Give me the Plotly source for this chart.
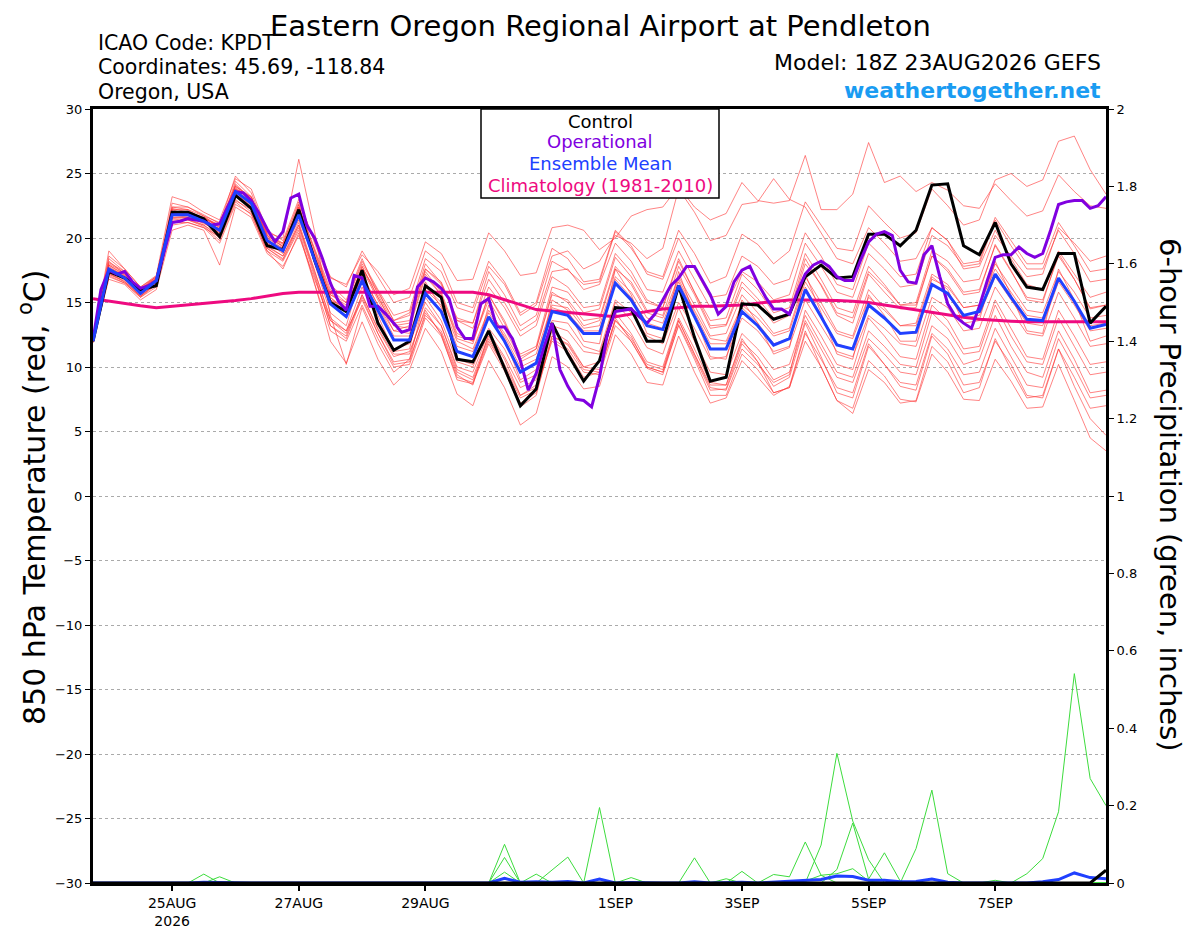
import plotly.graph_objects as go
import pandas as pd

# ---------------- data ----------------
start = "2026-08-23 18:00"
n6 = 65
n3 = 129

control = [12.0, 17.4, 16.9, 16.0, 16.3, 22.0, 22.0, 21.5, 20.1, 23.3, 22.3, 19.4, 19.1,
           22.2, 18.3, 15.0, 14.3, 17.5, 13.4, 11.3, 12.0,
           16.3, 15.4, 10.6, 10.4, 12.8, 9.9, 7.0, 8.3, 13.4, 11.0, 8.9, 10.5,
           14.6, 14.5, 12.0, 12.0, 16.3, 12.3, 8.9, 9.2, 14.9, 14.8, 13.7, 14.1,
           17.0, 17.9, 16.9, 17.0, 20.3, 20.3, 19.4, 20.6,
           24.1, 24.2, 19.4, 18.7, 21.2, 18.0, 16.2, 16.0, 18.8, 18.8, 13.4, 14.7]

ens_mean = [12.0, 17.6, 16.9, 15.7, 16.7, 21.8, 21.8, 21.3, 20.6, 23.6, 22.7, 19.8, 19.0,
            21.8, 18.3, 14.9, 13.9, 16.7, 14.4, 12.1, 12.1,
            15.7, 14.3, 11.2, 10.8, 13.9, 12.0, 9.6, 10.3, 14.3, 14.0, 12.6, 12.6,
            16.5, 15.2, 13.2, 12.9, 16.3, 13.9, 11.4, 11.4, 14.3, 13.2, 11.7, 12.2,
            16.0, 13.9, 11.7, 11.4, 14.8, 13.8, 12.6, 12.7,
            16.4, 15.7, 14.0, 14.3, 17.2, 15.4, 13.7, 13.6, 16.9, 15.1, 13.0, 13.3]

climatology = [15.3, 15.1, 14.95, 14.75, 14.6, 14.7, 14.8, 14.9, 15.0, 15.15, 15.3, 15.5, 15.7,
               15.8, 15.8, 15.8, 15.8, 15.8, 15.8, 15.8, 15.8,
               15.8, 15.8, 15.8, 15.8, 15.6, 15.2, 14.8, 14.45, 14.35, 14.25, 14.1, 14.0,
               13.9, 14.1, 14.3, 14.5, 14.6, 14.7, 14.7, 14.75, 14.8, 14.95, 15.1, 15.2,
               15.2, 15.2, 15.15, 15.1, 15.0, 14.8, 14.6, 14.4,
               14.2, 14.0, 13.85, 13.7, 13.6, 13.55, 13.5, 13.5, 13.5, 13.5, 13.5, 13.5]

operational = [12.1, 16.0, 17.5, 17.2, 17.4, 16.6, 16.1, 16.3, 16.7, 19.0, 21.2, 21.3, 21.5,
               21.4, 21.3, 21.0, 21.1, 22.4, 23.6, 23.5, 22.9, 21.9, 20.7, 19.7, 20.5,
               23.1, 23.4, 21.0, 20.0, 18.4, 16.5, 15.1, 14.4, 17.1, 16.9, 14.7, 14.7,
               14.1, 13.4, 12.7, 12.9, 16.2, 16.9, 16.6, 16.1, 15.3, 13.1, 12.2, 12.2,
               14.9, 15.3, 13.1, 13.1, 12.2, 10.5, 8.2, 9.5, 11.6, 13.4, 9.8, 8.5,
               7.5, 7.4, 6.9, 9.2, 12.6, 14.3, 14.4, 14.5, 13.9, 13.4, 14.1, 15.2,
               16.3, 16.9, 17.8, 17.8, 16.7, 15.6, 14.1, 14.7, 16.6, 17.5, 17.8, 16.5,
               15.4, 14.5, 14.5, 14.1, 15.8, 17.2, 17.9, 18.2, 17.8, 17.0, 16.7, 16.7,
               18.3, 19.7, 20.3, 20.5, 20.2, 17.5, 16.6, 16.5, 18.7, 19.4, 17.0, 14.9,
               13.9, 13.4, 13.0, 14.7, 16.7, 18.5, 18.7, 18.7, 19.3, 18.8, 18.5, 18.8,
               20.6, 22.6, 22.8, 22.9, 22.9, 22.3, 22.5, 23.2]

member01 = [12.0, 18.4, 17.4, 16.0, 16.9, 22.7, 22.4, 21.7, 20.8, 24.4, 23.2, 20.1, 19.6,
            22.8, 19.8, 16.9, 16.4, 18.7, 17.4, 15.6, 16.1,
            19.7, 18.8, 16.7, 16.8, 20.4, 19.0, 17.1, 17.3, 20.8, 21.0, 20.6, 19.1,
            20.0, 21.7, 22.2, 22.4, 24.0, 22.4, 21.4, 21.9, 24.3, 22.9, 22.7, 22.9,
            26.4, 22.2, 22.2, 23.4, 27.4, 24.3, 24.8, 23.6,
            24.3, 23.7, 22.5, 22.3, 24.2, 22.9, 21.7, 22.1, 24.9, 23.6, 22.5, 22.3]
member02 = [11.9, 19.0, 17.6, 16.2, 17.0, 22.3, 22.0, 21.6, 21.0, 24.8, 23.5, 20.4, 19.3,
            22.4, 19.2, 16.0, 15.0, 18.0, 15.9, 13.6, 14.0,
            18.0, 16.5, 13.8, 13.4, 17.4, 15.6, 13.2, 14.0, 18.2, 17.5, 16.4, 16.6,
            20.5, 19.2, 17.4, 17.0, 20.6, 18.8, 16.5, 17.0, 20.3, 19.5, 18.0, 19.0,
            22.8, 21.0, 19.2, 19.0, 22.5, 21.2, 20.0, 20.4,
            23.8, 22.5, 21.0, 21.4, 24.5, 25.0, 24.0, 24.5, 27.5, 27.9, 25.3, 23.4]
member03 = [12.1, 17.0, 16.5, 15.4, 16.2, 21.0, 21.2, 20.8, 19.6, 22.6, 21.9, 19.0, 18.2,
            20.6, 16.5, 12.0, 10.3, 13.5, 10.6, 8.6, 9.8,
            13.0, 11.2, 7.9, 7.0, 10.5, 8.4, 5.5, 6.4, 10.8, 10.0, 8.3, 8.5,
            12.5, 11.0, 8.8, 8.6, 12.4, 9.6, 7.2, 7.6, 10.5, 9.2, 7.8, 8.5,
            12.8, 10.0, 7.4, 6.8, 10.5, 9.3, 7.5, 7.3,
            11.0, 9.6, 7.5, 7.4, 10.6, 8.9, 6.8, 6.9, 10.2, 7.4, 4.5, 3.5]
member04 = [12.0, 17.3, 16.6, 15.5, 16.5, 21.4, 21.5, 21.0, 20.2, 23.2, 22.3, 19.3, 18.6,
            21.2, 17.5, 13.6, 12.6, 15.6, 12.9, 10.8, 11.2,
            14.4, 12.5, 9.0, 8.7, 11.8, 9.7, 6.9, 7.8, 12.4, 11.7, 9.8, 9.6,
            13.8, 12.0, 9.9, 9.4, 13.3, 10.8, 8.2, 8.3, 11.8, 10.4, 8.5, 9.2,
            13.4, 10.8, 8.0, 7.6, 11.6, 10.2, 8.5, 8.2,
            12.4, 11.0, 8.6, 8.8, 12.0, 10.2, 7.8, 7.6, 11.4, 8.5, 6.0, 4.7]
member05 = [12.0, 17.8, 17.0, 15.9, 16.8, 22.0, 22.1, 21.5, 20.9, 24.0, 23.1, 20.2, 19.5,
            22.3, 19.0, 15.8, 14.6, 17.8, 15.4, 13.2, 13.0,
            17.0, 15.6, 12.4, 12.0, 15.6, 13.4, 11.0, 11.6, 16.2, 15.8, 14.2, 14.5,
            18.5, 17.0, 15.0, 14.6, 18.4, 15.8, 13.2, 13.3, 16.6, 15.3, 13.8, 14.2,
            18.4, 16.3, 14.0, 13.4, 17.2, 15.8, 14.5, 14.6,
            18.6, 17.4, 15.6, 15.8, 19.5, 17.5, 15.2, 15.0, 18.8, 16.8, 14.5, 14.8]
member06 = [11.9, 17.2, 16.7, 15.5, 16.4, 21.2, 21.4, 21.0, 20.0, 23.0, 22.0, 19.2, 18.4,
            21.0, 17.2, 13.2, 12.4, 15.6, 13.0, 11.0, 11.0,
            14.6, 13.2, 10.0, 9.6, 12.7, 10.8, 8.4, 9.0, 13.2, 12.8, 11.2, 11.0,
            15.0, 13.6, 11.5, 11.0, 14.6, 12.0, 9.6, 9.4, 12.6, 11.4, 9.8, 10.2,
            14.0, 11.8, 9.6, 9.2, 12.8, 11.6, 10.2, 10.0,
            14.2, 13.0, 11.0, 11.2, 14.8, 12.4, 10.4, 10.2, 13.8, 11.6, 9.4, 9.6]
member07 = [12.0, 18.2, 17.2, 15.8, 16.9, 22.4, 22.2, 21.4, 20.4, 24.2, 23.0, 19.6, 18.8,
            22.6, 18.0, 14.2, 13.2, 17.4, 14.0, 11.2, 11.4,
            16.6, 14.6, 10.6, 10.2, 14.8, 12.2, 9.0, 9.8, 15.2, 14.4, 12.0, 11.8,
            17.6, 15.6, 12.6, 12.2, 17.4, 14.0, 10.8, 10.6, 15.2, 13.4, 11.0, 11.5,
            17.2, 14.2, 11.0, 10.6, 15.6, 14.0, 12.0, 12.0,
            17.0, 16.0, 13.4, 13.6, 18.2, 15.6, 12.8, 12.6, 17.6, 15.2, 12.0, 12.4]
member08 = [12.1, 18.6, 17.6, 16.2, 17.1, 23.2, 22.8, 22.0, 21.4, 24.6, 23.8, 20.6, 19.8,
            23.0, 19.6, 16.4, 15.2, 18.4, 15.6, 13.4, 13.6,
            17.4, 15.8, 12.6, 12.0, 15.2, 13.0, 10.6, 11.4, 15.6, 15.2, 13.6, 13.8,
            17.8, 16.4, 14.2, 13.8, 17.0, 14.8, 12.4, 12.6, 15.6, 14.2, 12.6, 13.0,
            17.0, 15.0, 12.8, 12.4, 16.0, 14.6, 13.2, 13.4,
            17.2, 16.4, 14.6, 14.8, 18.0, 16.2, 14.4, 14.2, 17.4, 15.8, 13.8, 14.0]
member09 = [12.0, 17.6, 17.0, 15.9, 16.6, 22.2, 21.8, 21.6, 20.8, 23.8, 23.2, 20.4, 20.0,
            26.1, 20.5, 14.0, 10.2, 14.6, 11.8, 9.6, 10.6,
            15.4, 13.6, 10.4, 10.0, 13.0, 11.4, 8.8, 9.4, 13.6, 13.4, 11.6, 11.2,
            15.2, 14.2, 12.4, 11.8, 15.0, 13.0, 10.6, 10.8, 13.8, 12.8, 11.2, 11.6,
            15.2, 13.2, 11.2, 10.8, 14.0, 13.0, 11.8, 11.6,
            15.4, 14.6, 12.8, 13.0, 16.2, 14.4, 12.6, 12.4, 15.8, 13.8, 11.6, 11.8]
member10 = [11.9, 17.9, 17.1, 15.8, 16.8, 21.6, 21.6, 21.2, 20.4, 23.4, 22.5, 19.8, 19.2,
            21.6, 18.6, 15.6, 15.0, 18.2, 16.0, 14.0, 14.4,
            18.4, 17.4, 14.6, 14.2, 17.8, 16.4, 14.0, 14.8, 18.6, 19.0, 17.6, 18.2,
            20.2, 19.6, 18.4, 19.2, 23.8, 22.0, 19.8, 20.2, 22.6, 22.8, 24.6, 23.0,
            22.4, 20.4, 18.4, 18.0, 20.8, 19.6, 18.2, 18.4,
            20.8, 19.8, 17.6, 17.8, 20.6, 18.4, 16.4, 16.0, 19.0, 17.2, 15.4, 15.8]
member11 = [12.0, 16.8, 16.4, 15.2, 16.0, 20.6, 21.0, 20.6, 17.9, 22.4, 21.6, 18.8, 17.8,
            20.2, 16.8, 13.6, 12.8, 15.2, 12.6, 10.4, 10.6,
            14.0, 12.8, 9.6, 9.0, 12.2, 10.0, 7.6, 8.2, 12.4, 11.8, 10.0, 9.8,
            13.6, 12.2, 10.2, 9.8, 13.6, 11.0, 8.6, 8.6, 12.0, 10.8, 9.0, 9.6,
            13.6, 11.4, 9.2, 8.8, 12.2, 11.0, 9.6, 9.4,
            13.2, 12.2, 10.2, 10.6, 14.0, 11.6, 9.6, 9.2, 12.8, 10.6, 8.0, 8.2]
member12 = [12.0, 17.4, 16.8, 15.6, 16.6, 21.6, 21.7, 21.1, 20.6, 23.4, 22.6, 19.6, 18.9,
            21.4, 18.4, 15.4, 14.4, 17.0, 14.8, 12.8, 12.6,
            16.2, 15.0, 12.0, 11.4, 14.4, 12.6, 10.4, 11.0, 14.8, 14.6, 13.0, 13.2,
            17.0, 15.8, 13.8, 13.4, 16.8, 14.4, 12.2, 12.0, 14.8, 13.8, 12.4, 12.8,
            16.6, 14.6, 12.6, 12.2, 15.4, 14.4, 13.2, 13.2,
            16.8, 16.2, 14.6, 14.8, 17.6, 15.8, 14.0, 13.8, 16.8, 15.0, 13.2, 13.4]
member13 = [12.0, 17.9, 17.2, 16.0, 16.9, 21.9, 22.0, 21.4, 20.7, 23.8, 22.9, 20.0, 19.4,
            21.9, 18.8, 15.6, 14.8, 17.6, 15.8, 13.6, 14.2,
            17.6, 16.4, 13.6, 13.4, 16.8, 15.0, 12.8, 13.6, 17.4, 17.6, 16.0, 16.4,
            19.6, 18.2, 16.0, 15.8, 19.0, 16.8, 14.6, 14.8, 17.4, 16.6, 15.2, 15.6,
            19.6, 17.8, 15.8, 15.4, 18.8, 17.6, 16.2, 16.4,
            20.2, 19.4, 17.8, 18.0, 21.4, 19.4, 17.6, 17.6, 20.6, 18.8, 16.6, 16.8]
member14 = [12.0, 17.1, 16.5, 15.4, 16.4, 21.2, 21.2, 20.8, 20.1, 22.9, 22.2, 19.2, 18.3,
            20.8, 17.0, 13.2, 12.2, 15.4, 12.6, 10.2, 10.4,
            14.2, 12.6, 9.4, 8.6, 12.6, 10.6, 7.8, 8.6, 12.8, 12.0, 10.0, 10.4,
            14.2, 12.6, 10.4, 10.0, 13.8, 11.4, 8.8, 8.6, 12.2, 10.4, 8.0, 8.4,
            12.0, 10.0, 7.4, 6.4, 9.8, 8.8, 7.2, 7.4,
            11.6, 10.4, 8.0, 8.4, 12.2, 9.8, 7.6, 7.8, 11.4, 9.2, 6.8, 7.0]
member15 = [12.0, 17.7, 17.1, 15.9, 16.8, 22.1, 21.9, 21.5, 21.0, 24.1, 23.0, 20.0, 19.2,
            22.2, 18.6, 15.2, 14.6, 17.6, 15.2, 12.8, 13.2,
            17.2, 15.6, 12.2, 11.8, 15.6, 13.6, 10.8, 11.4, 15.8, 15.0, 13.2, 13.6,
            17.6, 16.6, 14.4, 14.0, 17.8, 15.6, 13.0, 13.2, 16.2, 15.0, 13.4, 14.0,
            18.0, 16.4, 14.2, 13.8, 17.4, 16.2, 14.8, 15.0,
            19.0, 18.2, 16.6, 16.8, 20.2, 18.6, 17.0, 17.2, 20.8, 19.6, 18.2, 18.6]
member16 = [12.0, 17.5, 16.9, 15.7, 16.6, 21.5, 21.6, 21.2, 20.3, 23.4, 22.4, 19.4, 18.6,
            21.0, 17.4, 13.8, 12.8, 16.2, 13.6, 11.4, 11.8,
            15.0, 13.2, 9.8, 9.2, 12.4, 10.2, 7.8, 8.4, 12.0, 11.2, 9.2, 9.6,
            13.6, 12.4, 10.0, 9.6, 13.6, 11.0, 8.4, 8.2, 11.4, 10.2, 8.8, 9.4,
            14.4, 12.4, 10.2, 9.8, 13.8, 12.4, 10.8, 10.6,
            14.8, 13.6, 11.4, 11.6, 15.2, 13.0, 10.8, 10.6, 14.4, 12.4, 10.2, 10.4]
member17 = [12.0, 17.6, 17.0, 15.8, 16.8, 21.8, 21.9, 21.4, 20.7, 23.7, 22.8, 19.9, 19.0,
            21.8, 18.6, 15.2, 14.2, 17.2, 14.8, 12.4, 12.4,
            16.0, 14.8, 11.6, 11.2, 14.2, 12.4, 10.0, 10.6, 14.6, 14.2, 12.8, 12.8,
            16.8, 15.4, 13.4, 13.0, 16.6, 14.2, 11.8, 11.8, 14.6, 13.4, 11.8, 12.2,
            16.2, 14.0, 11.8, 11.4, 14.8, 13.8, 12.6, 12.6,
            16.4, 15.6, 13.8, 14.0, 17.0, 15.2, 13.4, 13.2, 16.6, 14.8, 12.8, 13.0]
member18 = [12.0, 18.0, 17.3, 16.1, 17.0, 22.2, 22.2, 21.7, 21.2, 24.0, 23.2, 20.3, 19.6,
            22.6, 19.8, 17.0, 16.2, 19.0, 17.0, 15.0, 15.4,
            19.0, 18.0, 15.0, 14.6, 18.2, 16.6, 14.2, 15.0, 19.2, 18.4, 16.6, 16.8,
            20.6, 19.4, 17.2, 16.8, 20.0, 17.6, 15.4, 15.6, 18.6, 17.8, 16.4, 16.8,
            20.4, 18.6, 16.4, 16.0, 19.6, 18.4, 17.0, 17.2,
            20.8, 19.8, 18.0, 18.2, 21.6, 19.8, 18.0, 18.0, 21.2, 19.4, 17.4, 17.6]
member19 = [12.0, 17.2, 16.6, 15.5, 16.5, 21.3, 21.4, 20.9, 19.8, 22.8, 21.8, 19.0, 17.6,
            20.4, 16.4, 12.8, 12.0, 14.8, 12.2, 10.0, 10.2,
            13.8, 12.4, 9.2, 8.8, 12.0, 10.0, 7.2, 8.0, 12.2, 11.4, 9.6, 9.4,
            13.2, 12.0, 10.0, 9.6, 13.2, 10.6, 7.8, 7.8, 11.0, 9.8, 8.0, 8.4,
            12.6, 10.6, 8.4, 8.0, 11.8, 10.2, 8.8, 8.6,
            12.6, 11.4, 9.4, 9.6, 13.0, 10.8, 8.6, 8.4, 12.2, 10.0, 7.6, 7.8]
member20 = [12.0, 18.1, 17.4, 16.0, 17.0, 22.4, 22.4, 21.8, 21.1, 23.9, 23.0, 20.2, 19.3,
            22.4, 19.0, 15.4, 14.2, 17.8, 15.4, 13.2, 13.4,
            17.6, 16.6, 13.6, 13.0, 16.2, 14.6, 12.4, 13.2, 17.0, 16.2, 14.6, 14.8,
            18.8, 17.4, 15.2, 14.6, 18.2, 15.8, 13.6, 13.8, 17.2, 16.0, 14.2, 14.6,
            18.8, 16.8, 14.6, 14.2, 17.8, 16.4, 14.8, 14.8,
            18.6, 17.6, 15.8, 16.0, 19.4, 17.4, 15.4, 15.2, 18.6, 16.8, 14.6, 14.8]

members = [member01, member02, member03, member04, member05, member06, member07,
           member08, member09, member10, member11, member12, member13, member14,
           member15, member16, member17, member18, member19, member20]

# 6-hour precipitation (inches)
precip_a = [0, 0, 0, 0, 0, 0, 0, 0.023, 0, 0, 0, 0, 0,
            0, 0, 0, 0, 0, 0, 0, 0, 0, 0, 0, 0, 0,
            0.10, 0, 0, 0, 0, 0, 0.195, 0, 0, 0, 0, 0, 0,
            0, 0, 0, 0, 0, 0, 0, 0, 0, 0, 0, 0, 0,
            0, 0, 0, 0, 0, 0, 0, 0, 0, 0, 0, 0, 0]
precip_b = [0, 0, 0, 0, 0, 0, 0, 0, 0.016, 0, 0, 0, 0,
            0, 0, 0, 0, 0, 0, 0, 0, 0, 0, 0, 0, 0,
            0.066, 0, 0.023, 0, 0, 0, 0, 0, 0.014, 0, 0, 0, 0,
            0, 0, 0, 0, 0, 0, 0, 0, 0, 0, 0, 0, 0,
            0, 0, 0, 0, 0, 0, 0, 0, 0, 0, 0, 0, 0]
precip_c = [0, 0, 0, 0, 0, 0, 0, 0, 0, 0, 0, 0, 0,
            0, 0, 0, 0, 0, 0, 0, 0, 0, 0, 0, 0, 0,
            0.028, 0, 0, 0.033, 0.067, 0, 0, 0, 0, 0, 0, 0, 0.065,
            0, 0, 0.03, 0, 0, 0, 0, 0, 0, 0, 0, 0, 0,
            0, 0, 0, 0, 0, 0, 0, 0, 0, 0, 0, 0, 0]
precip_d = [0, 0, 0, 0, 0, 0, 0, 0, 0, 0, 0, 0, 0,
            0, 0, 0, 0, 0, 0, 0, 0, 0, 0, 0, 0, 0,
            0.013, 0, 0, 0, 0, 0, 0, 0, 0, 0, 0, 0, 0,
            0, 0.011, 0, 0, 0.022, 0.016, 0.106, 0.02, 0, 0, 0, 0, 0,
            0, 0, 0, 0, 0, 0, 0, 0, 0, 0, 0, 0, 0]
precip_e = [0, 0, 0, 0, 0, 0, 0, 0, 0, 0, 0, 0, 0,
            0, 0, 0, 0, 0, 0, 0, 0, 0, 0, 0, 0, 0,
            0, 0, 0, 0, 0, 0, 0, 0, 0, 0, 0, 0, 0,
            0, 0, 0, 0, 0, 0, 0, 0.098, 0.335, 0.16, 0.06, 0, 0,
            0, 0, 0, 0, 0, 0, 0, 0, 0, 0, 0, 0, 0]
precip_f = [0, 0, 0, 0, 0, 0, 0, 0, 0, 0, 0, 0, 0,
            0, 0, 0, 0, 0, 0, 0, 0, 0, 0, 0, 0, 0,
            0, 0, 0, 0, 0, 0, 0, 0, 0, 0, 0, 0, 0,
            0, 0, 0, 0, 0, 0, 0, 0, 0.035, 0.155, 0.01, 0.078, 0.005,
            0, 0, 0, 0, 0, 0, 0, 0, 0, 0, 0, 0, 0]
precip_g = [0, 0, 0, 0, 0, 0, 0, 0, 0, 0, 0, 0, 0,
            0, 0, 0, 0, 0, 0, 0, 0, 0, 0, 0, 0, 0,
            0, 0, 0, 0, 0, 0, 0, 0, 0, 0, 0, 0, 0,
            0, 0, 0, 0, 0, 0, 0.005, 0.02, 0.024, 0.037, 0.005, 0, 0,
            0.089, 0.24, 0.024, 0, 0, 0, 0, 0, 0, 0, 0, 0, 0]
precip_h = [0, 0, 0, 0, 0, 0, 0, 0, 0, 0, 0, 0, 0,
            0, 0, 0, 0, 0, 0, 0, 0, 0, 0, 0, 0, 0,
            0, 0, 0, 0, 0, 0, 0, 0, 0, 0, 0, 0, 0,
            0, 0, 0, 0, 0, 0, 0, 0, 0, 0, 0, 0, 0,
            0, 0, 0, 0, 0, 0.007, 0, 0.024, 0.063, 0.184, 0.541, 0.27, 0.2]
precip_members = [precip_a, precip_b, precip_c, precip_d, precip_e, precip_f, precip_g, precip_h]

precip_mean = [0, 0, 0, 0, 0, 0, 0, 0.002, 0.001, 0, 0, 0, 0,
               0, 0, 0, 0, 0, 0, 0, 0, 0, 0, 0, 0, 0,
               0.012, 0.002, 0.003, 0.002, 0.004, 0, 0.01, 0, 0.001, 0, 0, 0, 0.003,
               0, 0.001, 0.002, 0, 0.002, 0.004, 0.006, 0.009, 0.018, 0.017, 0.007, 0.007, 0.003,
               0.004, 0.01, 0.002, 0, 0, 0, 0, 0, 0.003, 0.009, 0.026, 0.014, 0.011]
precip_control = [0, 0, 0, 0, 0, 0, 0, 0, 0, 0, 0, 0, 0,
                  0, 0, 0, 0, 0, 0, 0, 0, 0, 0, 0, 0, 0,
                  0, 0, 0, 0, 0, 0, 0, 0, 0, 0, 0, 0, 0,
                  0, 0, 0, 0, 0, 0, 0, 0, 0, 0, 0, 0, 0,
                  0, 0, 0, 0, 0, 0, 0, 0, 0, 0, 0, 0, 0.033]

tick_dates = ["2026-08-25", "2026-08-27", "2026-08-29", "2026-09-01",
              "2026-09-03", "2026-09-05", "2026-09-07"]
tick_labels = ["25AUG<br>2026", "27AUG", "29AUG", "1SEP", "3SEP", "5SEP", "7SEP"]

# ---------------- figure ----------------
t6 = pd.date_range(start, periods=n6, freq="6h")
t3 = pd.date_range(start, periods=n3, freq="3h")

W, H = 1200, 927
# target plot box in the picture
L, R, T, B = 93, 1106, 109, 883


def px(x):
    return (x - L) / (R - L)


def py(y):
    return (B - y) / (B - T)


fig = go.Figure()

for m in members:
    fig.add_trace(go.Scatter(x=t6, y=m, mode="lines", yaxis="y",
                             line=dict(color="rgba(255,50,50,0.6)", width=1),
                             hoverinfo="skip", showlegend=False))

for p in precip_members:
    fig.add_trace(go.Scatter(x=t6, y=p, mode="lines", yaxis="y2",
                             line=dict(color="#3ddc3d", width=1),
                             hoverinfo="skip", showlegend=False))

fig.add_trace(go.Scatter(x=t6, y=precip_mean, mode="lines", yaxis="y2",
                         line=dict(color="#2040ff", width=3), showlegend=False))
fig.add_trace(go.Scatter(x=t6, y=precip_control, mode="lines", yaxis="y2",
                         line=dict(color="black", width=3), showlegend=False))

fig.add_trace(go.Scatter(x=t6, y=climatology, mode="lines", yaxis="y",
                         line=dict(color="#ee0a80", width=3), showlegend=False))
fig.add_trace(go.Scatter(x=t6, y=control, mode="lines", yaxis="y",
                         line=dict(color="black", width=3), showlegend=False))
fig.add_trace(go.Scatter(x=t3, y=operational, mode="lines", yaxis="y",
                         line=dict(color="#8000e0", width=3), showlegend=False))
fig.add_trace(go.Scatter(x=t6, y=ens_mean, mode="lines", yaxis="y",
                         line=dict(color="#2040ff", width=3), showlegend=False))

tick_font = dict(family="DejaVu Sans", size=13, color="black")

fig.update_layout(
    width=W, height=H,
    margin=dict(l=85, r=102, t=101, b=52, autoexpand=False),
    paper_bgcolor="white", plot_bgcolor="white",
    showlegend=False,
    xaxis=dict(type="date", range=[t6[0], t6[-1]], automargin=False,
               tickvals=tick_dates, ticktext=tick_labels,
               showgrid=False, zeroline=False,
               showline=True, linewidth=3, linecolor="black", mirror=True,
               ticks="outside", ticklen=5, tickwidth=1.5, tickcolor="black",
               tickfont=dict(family="DejaVu Sans", size=14, color="black")),
    yaxis=dict(range=[-30, 30], tickvals=list(range(-30, 31, 5)), automargin=False,
               showgrid=True, gridcolor="#aaaaaa", gridwidth=1, griddash="dot",
               zeroline=False,
               showline=True, linewidth=3, linecolor="black", mirror=True,
               ticks="outside", ticklen=5, tickwidth=1, tickcolor="black",
               tickfont=tick_font),
    yaxis2=dict(range=[0, 2], overlaying="y", side="right", automargin=False,
                tickvals=[0, 0.2, 0.4, 0.6, 0.8, 1, 1.2, 1.4, 1.6, 1.8, 2],
                ticktext=["0", "0.2", "0.4", "0.6", "0.8", "1", "1.2", "1.4", "1.6", "1.8", "2"],
                showgrid=False, zeroline=False,
                showline=True, linewidth=3, linecolor="black",
                ticks="outside", ticklen=5, tickwidth=1, tickcolor="black",
                tickfont=tick_font),
)

# legend box
fig.add_shape(type="rect", xref="paper", yref="paper",
              x0=px(481), x1=px(719), y0=py(198), y1=py(109),
              line=dict(color="black", width=1.5), fillcolor="white", layer="above")

legend_items = [("Control", "black", 121), ("Operational", "#8000e0", 142),
                ("Ensemble Mean", "#2040ff", 163), ("Climatology (1981-2010)", "#ee0a80", 185)]
for text, color, yy in legend_items:
    fig.add_annotation(text=text, xref="paper", yref="paper", x=px(600), y=py(yy),
                       xanchor="center", yanchor="middle", showarrow=False,
                       font=dict(family="DejaVu Sans", size=18, color=color))

# titles and header text
fig.add_annotation(text="Eastern Oregon Regional Airport at Pendleton", xref="paper", yref="paper",
                   x=px(600), y=py(26), xanchor="center", yanchor="middle", showarrow=False,
                   font=dict(family="DejaVu Sans", size=29, color="black"))
for text, yy in [("ICAO Code: KPDT", 43), ("Coordinates: 45.69, -118.84", 67), ("Oregon, USA", 92)]:
    fig.add_annotation(text=text, xref="paper", yref="paper", x=px(96), y=py(yy),
                       xanchor="left", yanchor="middle", showarrow=False,
                       font=dict(family="DejaVu Sans", size=20.5, color="black"))
fig.add_annotation(text="Model: 18Z 23AUG2026 GEFS", xref="paper", yref="paper",
                   x=px(1103), y=py(63), xanchor="right", yanchor="middle", showarrow=False,
                   font=dict(family="DejaVu Sans", size=22, color="black"))
fig.add_annotation(text="<b>weathertogether.net</b>", xref="paper", yref="paper",
                   x=px(1103), y=py(90), xanchor="right", yanchor="middle", showarrow=False,
                   font=dict(family="DejaVu Sans", size=22, color="#1a9cf2"))

fig.add_annotation(text="850 hPa Temperature (red, <sup>o</sup>C)", xref="paper", yref="paper",
                   x=px(33), y=py(497), xanchor="center", yanchor="middle", textangle=-90,
                   showarrow=False, font=dict(family="DejaVu Sans", size=30, color="black"))
fig.add_annotation(text="6-hour Precipitation (green, inches)", xref="paper", yref="paper",
                   x=px(1170), y=py(495), xanchor="center", yanchor="middle", textangle=90,
                   showarrow=False, font=dict(family="DejaVu Sans", size=29, color="black"))

fig.write_html("out.html")
